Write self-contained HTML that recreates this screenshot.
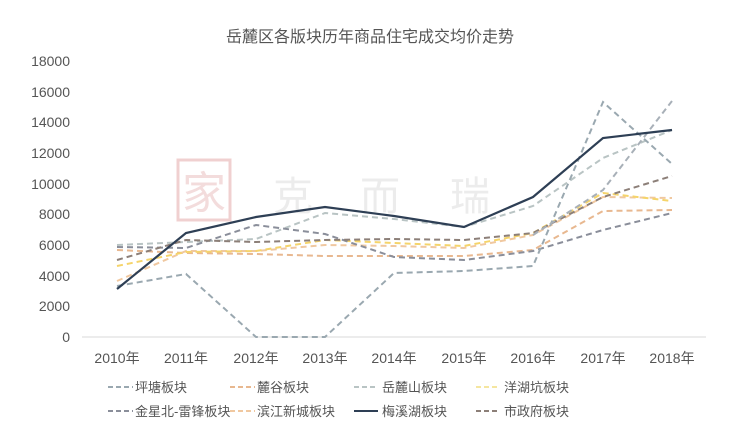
<!DOCTYPE html>
<html><head><meta charset="utf-8"><style>
html,body{margin:0;padding:0;background:#fff;}
svg{display:block;font-family:"Liberation Sans","Noto Sans CJK SC",sans-serif;}
</style></head><body>
<svg width="732" height="440" viewBox="0 0 732 440" xmlns="http://www.w3.org/2000/svg">
<rect width="732" height="440" fill="#fff"/>
<text x="370" y="42" font-size="16" fill="#555" text-anchor="middle">岳麓区各版块历年商品住宅成交均价走势</text>
<!-- watermark -->
<rect x="178" y="160" width="52" height="60" fill="none" stroke="#f0d0d0" stroke-width="3"/>
<text x="204" y="208" font-size="44" fill="#f3dcdc" text-anchor="middle">家</text>
<text x="293" y="210" font-size="40" fill="#ececec" text-anchor="middle">克</text>
<text x="380" y="210" font-size="40" fill="#ececec" text-anchor="middle">而</text>
<text x="470" y="210" font-size="40" fill="#ececec" text-anchor="middle">瑞</text>
<g font-size="14" fill="#555" text-anchor="end">
<text x="70" y="342">0</text><text x="70" y="281">4000</text><text x="70" y="311">2000</text>
<text x="70" y="250">6000</text><text x="70" y="219">8000</text><text x="70" y="189">10000</text>
<text x="70" y="158">12000</text><text x="70" y="127">14000</text><text x="70" y="97">16000</text><text x="70" y="66">18000</text>
</g>
<line x1="82" y1="337" x2="706" y2="337" stroke="#d9d9d9" stroke-width="1"/>
<g font-size="14" fill="#555" text-anchor="middle">
<text x="117" y="363">2010年</text><text x="186" y="363">2011年</text><text x="256" y="363">2012年</text>
<text x="325" y="363">2013年</text><text x="394" y="363">2014年</text><text x="464" y="363">2015年</text>
<text x="533" y="363">2016年</text><text x="603" y="363">2017年</text><text x="672" y="363">2018年</text>
</g>
<g fill="none" stroke-width="2" stroke-dasharray="6,4">
<!-- 麓谷 -->
<polyline stroke="#e8b890" points="117,250 186,253 256,254 325,256 394,256 464,256 533,250 603,211 672,210"/>
<!-- 滨江 -->
<polyline stroke="#f0c8a0" points="117,281 186,251 256,251 325,245 394,246 464,248 533,235 603,197 672,198"/>
<!-- 洋湖坑 -->
<polyline stroke="#f5d46a" points="117,266 186,252 256,251 325,240 394,243 464,246 533,233 603,193 672,201"/>
<!-- 岳麓山 -->
<polyline stroke="#b9c4c4" points="117,245 186,242 256,239 325,213 394,219 464,227 533,206 603,158 672,130"/>
<!-- 金星北 -->
<polyline stroke="#8a8e9a" points="117,247 186,248 256,225 325,234 394,257 464,260 533,251 603,230 672,213"/>
<!-- 市政府 -->
<polyline stroke="#8c7f78" points="117,260 186,240 256,242 325,240 394,239 464,240 533,233 603,197 672,176"/>
<!-- 坪塘 -->
<polyline stroke="#9aa8b0" points="117,286 186,274 256,337 325,337 394,273 464,271 533,266 603,102 672,164"/>
<polyline stroke="#a8b0b8" points="533,235 603,190 672,101"/>
</g>
<!-- 梅溪湖 -->
<polyline fill="none" stroke="#2e3f55" stroke-width="2.2" points="117,289 186,233 256,217 325,207 394,216 464,227 533,197 603,138 672,130"/>
<!-- legend -->
<g font-size="13" fill="#555">
<g stroke-width="2" stroke-dasharray="5,3">
<line x1="108" y1="387" x2="133" y2="387" stroke="#9aa8b0"/>
<line x1="230" y1="387" x2="255" y2="387" stroke="#e8b890"/>
<line x1="354" y1="387" x2="378" y2="387" stroke="#b9c4c4"/>
<line x1="476" y1="387" x2="500" y2="387" stroke="#f5e6a0"/>
<line x1="108" y1="411" x2="133" y2="411" stroke="#8a8e9a"/>
<line x1="230" y1="411" x2="255" y2="411" stroke="#f0c8a0"/>
<line x1="476" y1="411" x2="500" y2="411" stroke="#8c7f78"/>
</g>
<line x1="354" y1="411" x2="378" y2="411" stroke="#2e3f55" stroke-width="2"/>
<text x="135" y="392">坪塘板块</text><text x="257" y="392">麓谷板块</text>
<text x="382" y="392">岳麓山板块</text><text x="504" y="392">洋湖坑板块</text>
<text x="135" y="416">金星北-雷锋板块</text><text x="257" y="416">滨江新城板块</text>
<text x="382" y="416">梅溪湖板块</text><text x="504" y="416">市政府板块</text>
</g>
</svg>
</body></html>
